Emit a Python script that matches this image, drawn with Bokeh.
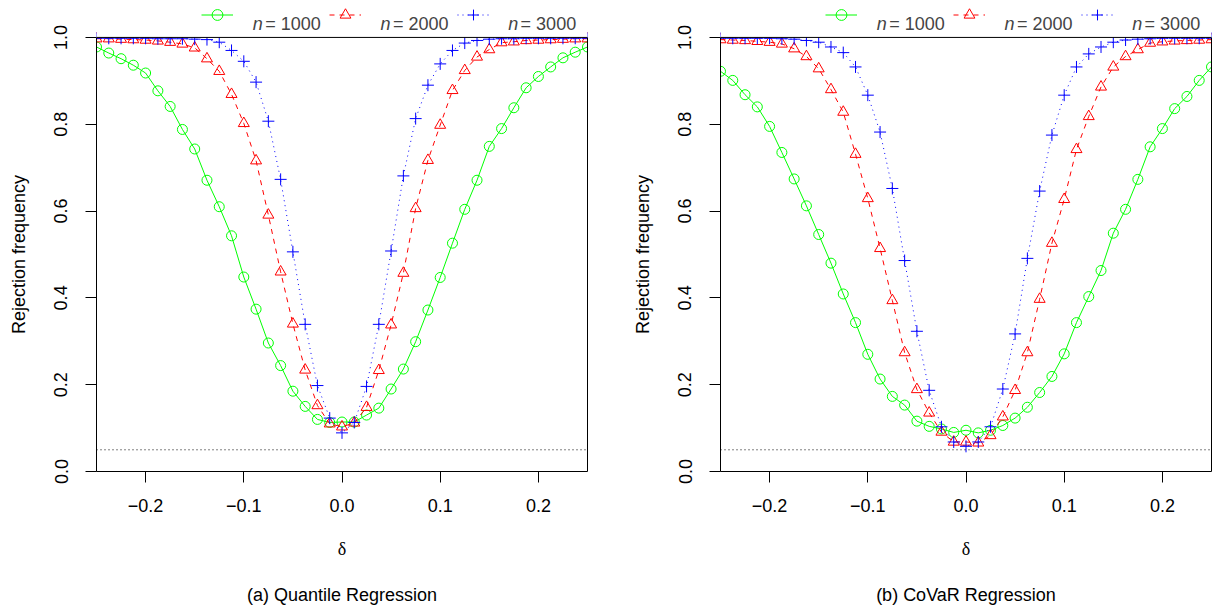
import math
from bokeh.plotting import figure
from bokeh.models import (FixedTicker, Label, Legend, LegendItem, Span, Range1d,
                          BoxAnnotation, LinearAxis)
from bokeh.layouts import row
from bokeh.embed import file_html
from bokeh.resources import INLINE
from bokeh.core.properties import value

# ---------------- data ----------------
delta = [-0.25, -0.2375, -0.225, -0.2125, -0.2, -0.1875, -0.175, -0.1625, -0.15, -0.1375,
         -0.125, -0.1125, -0.1, -0.0875, -0.075, -0.0625, -0.05, -0.0375, -0.025, -0.0125,
         0.0, 0.0125, 0.025, 0.0375, 0.05, 0.0625, 0.075, 0.0875, 0.1, 0.1125,
         0.125, 0.1375, 0.15, 0.1625, 0.175, 0.1875, 0.2, 0.2125, 0.225, 0.2375, 0.25]

qr_n1000 = [0.978, 0.964, 0.951, 0.936, 0.918, 0.877, 0.841, 0.788, 0.743, 0.671,
            0.610, 0.543, 0.448, 0.374, 0.296, 0.244, 0.185, 0.150, 0.120, 0.113,
            0.114, 0.114, 0.130, 0.146, 0.190, 0.236, 0.299, 0.372, 0.447, 0.526,
            0.604, 0.671, 0.749, 0.790, 0.838, 0.884, 0.910, 0.932, 0.953, 0.966, 0.978]
qr_n2000 = [0.997, 0.997, 0.996, 0.995, 0.994, 0.992, 0.989, 0.985, 0.976, 0.951,
            0.922, 0.869, 0.802, 0.716, 0.591, 0.460, 0.340, 0.234, 0.152, 0.110,
            0.103, 0.112, 0.148, 0.233, 0.338, 0.457, 0.606, 0.717, 0.798, 0.878,
            0.924, 0.955, 0.972, 0.988, 0.990, 0.993, 0.994, 0.995, 0.996, 0.997, 0.997]
qr_n3000 = [0.998, 0.998, 0.998, 0.998, 0.998, 0.997, 0.997, 0.997, 0.996, 0.995,
            0.989, 0.970, 0.945, 0.897, 0.807, 0.673, 0.506, 0.339, 0.198, 0.123,
            0.089, 0.113, 0.196, 0.339, 0.508, 0.681, 0.813, 0.890, 0.939, 0.970,
            0.987, 0.993, 0.996, 0.997, 0.997, 0.998, 0.998, 0.998, 0.998, 0.998, 0.998]

covar_n1000 = [0.922, 0.901, 0.868, 0.840, 0.795, 0.735, 0.674, 0.612, 0.546, 0.480,
               0.409, 0.343, 0.270, 0.213, 0.173, 0.153, 0.116, 0.104, 0.098, 0.090,
               0.095, 0.089, 0.095, 0.106, 0.123, 0.148, 0.182, 0.219, 0.271, 0.343,
               0.403, 0.463, 0.549, 0.604, 0.673, 0.748, 0.790, 0.836, 0.864, 0.901, 0.932]
covar_n2000 = [0.995, 0.994, 0.993, 0.991, 0.989, 0.985, 0.974, 0.956, 0.928, 0.880,
               0.828, 0.731, 0.629, 0.514, 0.394, 0.274, 0.189, 0.135, 0.091, 0.068,
               0.068, 0.066, 0.083, 0.126, 0.187, 0.274, 0.397, 0.526, 0.627, 0.742,
               0.818, 0.886, 0.932, 0.956, 0.972, 0.987, 0.990, 0.992, 0.993, 0.994, 0.995]
covar_n3000 = [0.998, 0.998, 0.998, 0.998, 0.998, 0.997, 0.996, 0.993, 0.989, 0.978,
               0.965, 0.932, 0.867, 0.782, 0.652, 0.486, 0.323, 0.187, 0.103, 0.068,
               0.058, 0.068, 0.103, 0.190, 0.317, 0.491, 0.646, 0.775, 0.867, 0.932,
               0.962, 0.978, 0.989, 0.994, 0.996, 0.997, 0.998, 0.998, 0.998, 0.998, 0.998]

sample_sizes = ["1000", "2000", "3000"]
x_ticks = [-0.2, -0.1, 0.0, 0.1, 0.2]
x_tick_labels = ["\u22120.2", "\u22120.1", "0.0", "0.1", "0.2"]
y_ticks = [0.0, 0.2, 0.4, 0.6, 0.8, 1.0]
y_tick_labels = ["0.0", "0.2", "0.4", "0.6", "0.8", "1.0"]
x_label = "\u03b4"
y_label = "Rejection frequency"
captions = ["(a) Quantile Regression", "(b) CoVaR Regression"]
nominal_level = 0.05
x_lim = (-0.25, 0.25)
y_lim = (0.0, 1.0)

# ---------------- style ----------------
FONT = "Liberation Sans"
FS = "18px"
colors = ["#00FF00", "#FF0000", "#0000FF"]
dashes = ["solid", "5 5", "1 4"]
markers = ["circle", "triangle", "cross"]
msizes = [10, 11, 12]

H = 607
B_TOP = 2
B_BOTTOM = 135
FRAME_BOTTOM_ABS = H - B_BOTTOM     # 472
FH = H - B_TOP - B_BOTTOM           # 470
PX_PER_UNIT_Y = 435.0
Y_TOP = FH / PX_PER_UNIT_Y          # room above 1.0 for the legend
# the axis label is centred on the whole frame; pad its end so the visible
# words sit centred on the 0..1 part of the axis
YLAB_PAD = "\u00a0" * 7


def make_panel(series, caption, width, b_left, b_right):
    fw = width - b_left - b_right
    p = figure(width=width, height=H, x_range=Range1d(*x_lim), y_range=Range1d(0, Y_TOP),
               min_border_left=b_left, min_border_right=b_right,
               min_border_top=B_TOP, min_border_bottom=B_BOTTOM,
               output_backend="svg", toolbar_location=None, tools="")
    p.grid.visible = False
    p.outline_line_color = None
    p.background_fill_color = "white"
    p.border_fill_color = "white"

    for ax in (p.xaxis[0], p.yaxis[0]):
        ax.axis_line_color = "black"
        ax.major_tick_line_color = "black"
        ax.major_tick_out = 11
        ax.major_tick_in = 0
        ax.minor_tick_out = 0
        ax.minor_tick_in = 0
        ax.major_label_text_font = FONT
        ax.major_label_text_font_size = FS
        ax.major_label_text_color = "black"
        ax.axis_label_text_font_size = FS
        ax.axis_label_text_font_style = "normal"
        ax.axis_label_text_color = "black"
    p.xaxis.ticker = FixedTicker(ticks=x_ticks)
    p.xaxis.major_label_overrides = dict(zip(x_ticks, x_tick_labels))
    p.xaxis.major_label_standoff = 16
    p.xaxis.axis_label = x_label
    p.xaxis.axis_label_text_font = "Liberation Serif"
    p.xaxis.axis_label_standoff = 24
    p.yaxis.ticker = FixedTicker(ticks=y_ticks)
    p.yaxis.major_label_overrides = dict(zip(y_ticks, y_tick_labels))
    p.yaxis.major_label_orientation = "vertical"
    p.yaxis.major_label_standoff = 18
    p.yaxis.bounds = y_lim
    p.yaxis.axis_label = y_label + YLAB_PAD
    p.yaxis.axis_label_text_font = FONT
    p.yaxis.axis_label_standoff = 23

    # caption: label of a second, bare axis stacked under the first one
    cap_ax = LinearAxis(ticker=FixedTicker(ticks=[]), axis_line_color=None,
                        major_tick_out=0, major_tick_in=0, minor_tick_out=0, minor_tick_in=0,
                        major_label_standoff=0, major_label_text_font_size="0px",
                        axis_label=caption, axis_label_standoff=23,
                        axis_label_text_font=FONT, axis_label_text_font_size=FS,
                        axis_label_text_font_style="normal", axis_label_text_color="black")
    p.add_layout(cap_ax, "below")

    # right edge of the box
    rax = LinearAxis(ticker=FixedTicker(ticks=[]), bounds=y_lim, axis_line_color="black",
                     major_tick_out=0, major_tick_in=0, minor_tick_out=0, minor_tick_in=0,
                     major_label_text_font_size="0px")
    p.add_layout(rax, "right")

    items = []
    for vals, c, d, m, s in zip(series, colors, dashes, markers, msizes):
        lr = p.line(delta, vals, line_color=c, line_width=1, line_dash=d)
        sr = p.scatter(delta, vals, marker=m, size=s, fill_color=None, line_color=c, line_width=1)
        items.append(LegendItem(label=value(" "), renderers=[lr, sr]))

    # mask everything above 1.0 (outside the R plot region) and draw the box top
    p.add_layout(BoxAnnotation(bottom=y_lim[1], fill_color="white", fill_alpha=1.0,
                               line_color=None, level="guide"))
    p.add_layout(Span(location=y_lim[1], dimension="width", line_color="black", line_width=1))
    p.add_layout(Span(location=nominal_level, dimension="width", line_color="black",
                      line_width=1, line_dash="1 3"))

    def rx(rel_px):
        return x_lim[0] + rel_px * (x_lim[1] - x_lim[0]) / fw

    def ay(abs_py):
        return (FRAME_BOTTOM_ABS - abs_py) / PX_PER_UNIT_Y

    legend = Legend(items=items, orientation="horizontal",
                    location=(105, FRAME_BOTTOM_ABS - 29),
                    glyph_width=32, glyph_height=27, label_standoff=0, label_width=96,
                    label_height=10, spacing=0, padding=0, margin=0,
                    border_line_alpha=0, background_fill_alpha=0,
                    label_text_font_size="2px")
    p.add_layout(legend)

    for k, n in enumerate(sample_sizes):
        base = 156.3 + 127.7 * k
        p.add_layout(Label(x=rx(base), y=ay(23.5), text="n", text_font=FONT,
                           text_font_size=FS, text_font_style="italic",
                           text_align="left", text_baseline="alphabetic"))
        p.add_layout(Label(x=rx(base + 12.4), y=ay(23.5), text="= " + n, text_font=FONT,
                           text_font_size=FS, text_align="left", text_baseline="alphabetic"))
    return p


p1 = make_panel([qr_n1000, qr_n2000, qr_n3000], captions[0], 620, 96, 33)
p2 = make_panel([covar_n1000, covar_n2000, covar_n3000], captions[1], 592, 100, 1)

layout = row(p1, p2)
open("out.html", "w").write(file_html(layout, INLINE))
